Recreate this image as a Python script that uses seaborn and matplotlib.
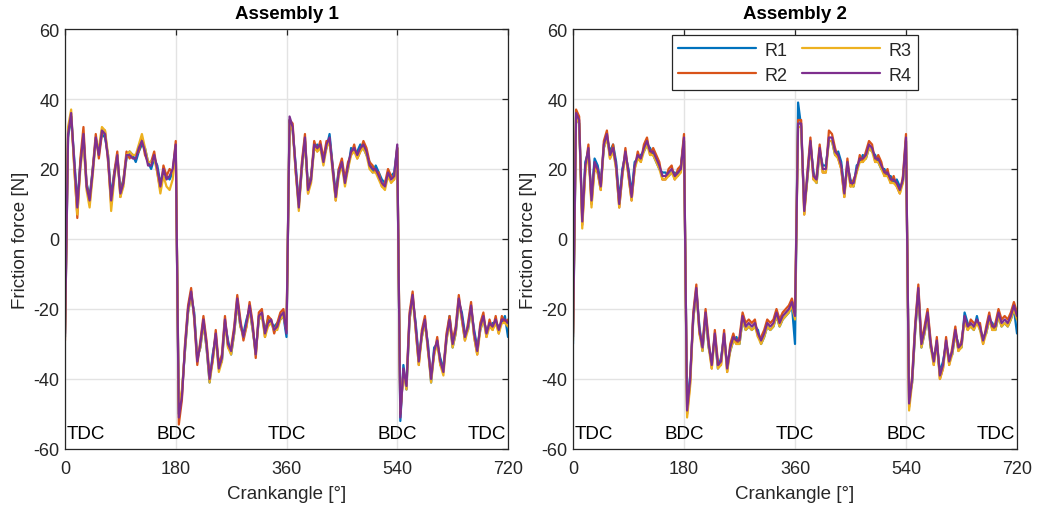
import numpy as np
import pandas as pd
import matplotlib
matplotlib.use("Agg")
import matplotlib.pyplot as plt
import seaborn as sns

# Crank angle grid [deg]
angle = list(range(0, 721, 5))
runs = ["R1", "R2", "R3", "R4"]

# Assembly 1 friction force [N], one list per run
a1_r1 = [-28, 29, 35, 23, 10, 22, 29, 16, 12, 20,
         28, 25, 30, 29, 24, 12, 19, 23, 14, 17,
         23, 25, 24, 22, 25, 27, 26, 22, 20, 23,
         21, 16, 19, 18, 17, 19, 26, -50, -44, -32,
         -21, -16, -21, -34, -31, -24, -31, -41, -33, -28,
         -36, -35, -24, -29, -33, -27, -18, -25, -27, -23,
         -20, -26, -32, -23, -22, -26, -23, -24, -25, -24,
         -23, -22, -28, 34, 31, 21, 10, 20, 28, 15,
         18, 26, 27, 26, 23, 26, 30, 21, 13, 20,
         21, 17, 20, 26, 25, 25, 27, 26, 24, 22,
         19, 21, 19, 17, 16, 18, 18, 19, 26, -52,
         -36, -43, -23, -17, -24, -34, -28, -24, -30, -41,
         -31, -30, -34, -37, -29, -22, -31, -27, -18, -21,
         -27, -26, -20, -26, -31, -26, -23, -26, -25, -24,
         -24, -25, -24, -22, -28]
a1_r2 = [-29, 31, 35, 21, 6, 23, 32, 16, 10, 20,
         30, 23, 30, 31, 22, 10, 19, 25, 12, 17,
         25, 23, 24, 24, 25, 29, 24, 22, 22, 25,
         19, 14, 21, 18, 20, 19, 28, -53, -46, -30,
         -19, -14, -23, -36, -29, -22, -29, -39, -35, -26,
         -36, -33, -22, -31, -31, -25, -16, -23, -29, -25,
         -18, -24, -34, -21, -20, -28, -22, -23, -27, -24,
         -21, -20, -26, 34, 33, 19, 10, 22, 30, 13,
         18, 28, 25, 28, 23, 28, 28, 21, 11, 20,
         23, 17, 22, 24, 27, 23, 25, 28, 26, 22,
         21, 19, 19, 15, 16, 20, 18, 17, 26, -50,
         -38, -41, -21, -15, -26, -36, -26, -22, -32, -39,
         -33, -28, -36, -37, -27, -22, -29, -25, -16, -23,
         -29, -24, -18, -28, -33, -24, -21, -28, -23, -26,
         -22, -27, -22, -24, -23]
a1_r3 = [-26, 32, 37, 20, 7, 20, 28, 14, 9, 18,
         28, 26, 32, 31, 24, 8, 17, 24, 12, 15,
         24, 25, 24, 24, 27, 30, 26, 22, 22, 23,
         19, 13, 18, 15, 14, 17, 26, -48, -43, -32,
         -21, -16, -22, -34, -31, -24, -31, -41, -35, -28,
         -38, -35, -24, -31, -33, -27, -18, -25, -28, -25,
         -20, -26, -33, -23, -22, -28, -25, -24, -26, -26,
         -23, -22, -26, 33, 31, 19, 8, 20, 28, 13,
         16, 26, 25, 26, 21, 26, 28, 19, 11, 18,
         21, 15, 20, 24, 25, 23, 25, 26, 24, 20,
         19, 19, 17, 15, 14, 18, 16, 17, 26, -49,
         -38, -43, -23, -17, -26, -36, -28, -24, -32, -41,
         -33, -30, -36, -39, -29, -24, -31, -27, -18, -23,
         -29, -26, -20, -28, -33, -26, -23, -28, -25, -26,
         -24, -27, -24, -24, -25]
a1_r4 = [-27, 30, 36, 22, 9, 21, 30, 15, 11, 19,
         29, 24, 31, 30, 23, 11, 18, 24, 13, 16,
         24, 24, 23, 23, 26, 28, 25, 21, 21, 24,
         20, 15, 20, 17, 18, 20, 27, -51, -45, -31,
         -20, -15, -22, -35, -30, -23, -30, -40, -34, -27,
         -37, -34, -23, -30, -32, -26, -17, -24, -28, -24,
         -19, -25, -33, -22, -21, -27, -24, -23, -26, -25,
         -22, -21, -27, 35, 32, 20, 9, 21, 29, 14,
         17, 27, 26, 27, 22, 27, 29, 20, 12, 19,
         22, 16, 21, 25, 26, 24, 26, 27, 25, 21,
         20, 20, 18, 16, 15, 19, 17, 18, 27, -51,
         -37, -42, -22, -16, -25, -35, -27, -23, -31, -40,
         -32, -29, -35, -38, -28, -23, -30, -26, -17, -22,
         -28, -25, -19, -27, -32, -25, -22, -27, -24, -25,
         -23, -26, -23, -23, -24]

# Assembly 2 friction force [N], one list per run
a2_r1 = [-30, 35, 33, 6, 22, 25, 12, 23, 21, 16,
         26, 29, 25, 27, 22, 11, 20, 24, 20, 13,
         22, 23, 24, 25, 27, 26, 24, 22, 20, 19,
         19, 18, 19, 19, 18, 21, 28, -48, -39, -23,
         -15, -25, -32, -22, -31, -35, -28, -37, -34, -28,
         -36, -32, -29, -28, -30, -23, -26, -25, -26, -25,
         -26, -30, -28, -25, -26, -25, -22, -25, -23, -22,
         -21, -19, -30, 39, 32, 9, 17, 27, 19, 16,
         25, 21, 21, 28, 28, 24, 25, 22, 14, 21,
         17, 15, 21, 22, 24, 23, 26, 25, 24, 22,
         20, 20, 18, 18, 16, 17, 15, 16, 28, -46,
         -41, -26, -15, -31, -27, -22, -31, -34, -30, -38,
         -35, -30, -34, -33, -27, -30, -31, -21, -24, -25,
         -26, -22, -26, -28, -27, -23, -24, -26, -22, -25,
         -24, -25, -23, -20, -27]
a2_r2 = [-27, 37, 35, 4, 20, 27, 10, 21, 19, 14,
         28, 31, 23, 27, 20, 9, 18, 26, 18, 11,
         20, 25, 22, 27, 29, 24, 26, 24, 22, 17,
         17, 20, 21, 17, 20, 21, 30, -50, -41, -21,
         -13, -27, -30, -20, -29, -37, -26, -35, -36, -26,
         -38, -30, -27, -30, -28, -21, -24, -23, -24, -23,
         -28, -28, -26, -23, -24, -23, -20, -23, -21, -20,
         -19, -17, -21, 34, 34, 7, 19, 29, 17, 18,
         27, 19, 19, 31, 30, 26, 23, 20, 12, 23,
         15, 17, 19, 24, 22, 25, 28, 27, 22, 24,
         22, 18, 20, 16, 18, 15, 13, 18, 30, -48,
         -39, -24, -13, -29, -25, -20, -29, -36, -28, -40,
         -37, -28, -36, -31, -25, -32, -29, -23, -26, -23,
         -24, -24, -24, -30, -25, -21, -26, -24, -20, -23,
         -22, -23, -21, -18, -21]
a2_r3 = [-29, 35, 33, 3, 19, 25, 9, 20, 19, 14,
         26, 29, 23, 25, 20, 9, 18, 24, 18, 11,
         20, 23, 22, 25, 27, 24, 24, 22, 20, 17,
         17, 18, 19, 17, 18, 19, 28, -51, -42, -23,
         -15, -27, -32, -22, -31, -37, -28, -37, -36, -28,
         -38, -32, -29, -30, -30, -23, -26, -25, -26, -25,
         -28, -30, -28, -25, -26, -25, -22, -25, -23, -22,
         -21, -19, -23, 32, 32, 7, 17, 27, 17, 16,
         25, 19, 19, 28, 28, 24, 23, 20, 12, 21,
         15, 15, 19, 22, 22, 23, 26, 25, 22, 22,
         20, 18, 18, 16, 16, 15, 13, 16, 28, -49,
         -41, -26, -15, -31, -27, -22, -31, -36, -30, -40,
         -37, -30, -36, -33, -27, -32, -31, -23, -26, -25,
         -26, -24, -26, -30, -27, -23, -26, -26, -22, -25,
         -24, -25, -23, -20, -23]
a2_r4 = [-28, 36, 34, 5, 21, 26, 11, 22, 20, 15,
         27, 30, 24, 26, 21, 10, 19, 25, 19, 12,
         21, 24, 23, 26, 28, 25, 25, 23, 21, 18,
         18, 19, 20, 18, 19, 20, 29, -49, -40, -22,
         -14, -26, -31, -21, -30, -36, -27, -36, -35, -27,
         -37, -31, -28, -29, -29, -22, -25, -24, -25, -24,
         -27, -29, -27, -24, -25, -24, -21, -24, -22, -21,
         -20, -18, -22, 33, 33, 8, 18, 28, 18, 17,
         26, 20, 20, 29, 29, 25, 24, 21, 13, 22,
         16, 16, 20, 23, 23, 24, 27, 26, 23, 23,
         21, 19, 19, 17, 17, 16, 14, 17, 29, -47,
         -40, -25, -14, -30, -26, -21, -30, -35, -29, -39,
         -36, -29, -35, -32, -26, -31, -30, -22, -25, -24,
         -25, -23, -25, -29, -26, -22, -25, -25, -21, -24,
         -23, -24, -22, -19, -22]

titles = ["Assembly 1", "Assembly 2"]
x_ticks = [0, 180, 360, 540, 720]
y_ticks = [-60, -40, -20, 0, 20, 40, 60]
dead_centres = ["TDC", "BDC", "TDC", "BDC", "TDC"]

colors = ["#0072BD", "#D95319", "#EDB120", "#7E2F8E"]

frames = []
for title, series in zip(titles, [[a1_r1, a1_r2, a1_r3, a1_r4],
                                  [a2_r1, a2_r2, a2_r3, a2_r4]]):
    for run, vals in zip(runs, series):
        frames.append(pd.DataFrame({"angle": angle, "force": vals,
                                    "run": run, "assembly": title}))
df = pd.concat(frames, ignore_index=True)

sns.set_theme(style="white")
plt.rcParams["font.family"] = ["Liberation Sans", "DejaVu Sans"]
plt.rcParams["axes.unicode_minus"] = False

fig = plt.figure(figsize=(10.38, 5.10), dpi=100)
axes = [fig.add_axes([65 / 1038, 60 / 510, 443 / 1038, 420 / 510]),
        fig.add_axes([573 / 1038, 60 / 510, 444 / 1038, 420 / 510])]

dark = "#262626"
for i, (ax, title) in enumerate(zip(axes, titles)):
    sub = df[df["assembly"] == title]
    sns.lineplot(data=sub, x="angle", y="force", hue="run", hue_order=runs,
                 palette=colors, estimator=None, linewidth=1.6, ax=ax,
                 legend=(i == 1))
    ax.set_xlim(0, 720)
    ax.set_ylim(-60, 60)
    ax.set_xticks(x_ticks)
    ax.set_yticks(y_ticks)
    ax.grid(True, color="#e3e3e3", linewidth=1.0)
    ax.set_axisbelow(True)
    for sp in ax.spines.values():
        sp.set_visible(True)
        sp.set_color(dark)
        sp.set_linewidth(0.9)
    ax.tick_params(direction="in", length=4, width=0.9, colors=dark,
                   labelsize=13, top=True, right=True)
    ax.tick_params(axis="x", pad=8)
    ax.tick_params(axis="y", pad=4)
    ax.set_xlabel("Crankangle [°]", fontsize=13.5, color=dark, labelpad=6)
    ax.set_ylabel("Friction force [N]", fontsize=13.5, color=dark, labelpad=3)
    ax.set_title(title, fontsize=13.5, fontweight="bold", color="black", pad=8)
    for xpos, lab in zip(x_ticks, dead_centres):
        ha = "left" if xpos == 0 else ("right" if xpos == 720 else "center")
        dx = 1.5 if xpos == 0 else (-1.5 if xpos == 720 else 0)
        ax.annotate(lab, xy=(xpos, -55.6), xytext=(dx, 0),
                    textcoords="offset points", ha=ha, va="center",
                    fontsize=13.5, color="black")

leg = axes[1].legend(loc="upper center", ncol=2, frameon=True, fancybox=False,
                     edgecolor=dark, framealpha=1, fontsize=13,
                     handlelength=4.3, columnspacing=0.8, borderaxespad=0.35,
                     handletextpad=0.5, borderpad=0.35, labelspacing=0.45)
leg.get_frame().set_linewidth(0.9)
for line in leg.get_lines():
    line.set_linewidth(1.6)

fig.savefig("out.png", dpi=100)
